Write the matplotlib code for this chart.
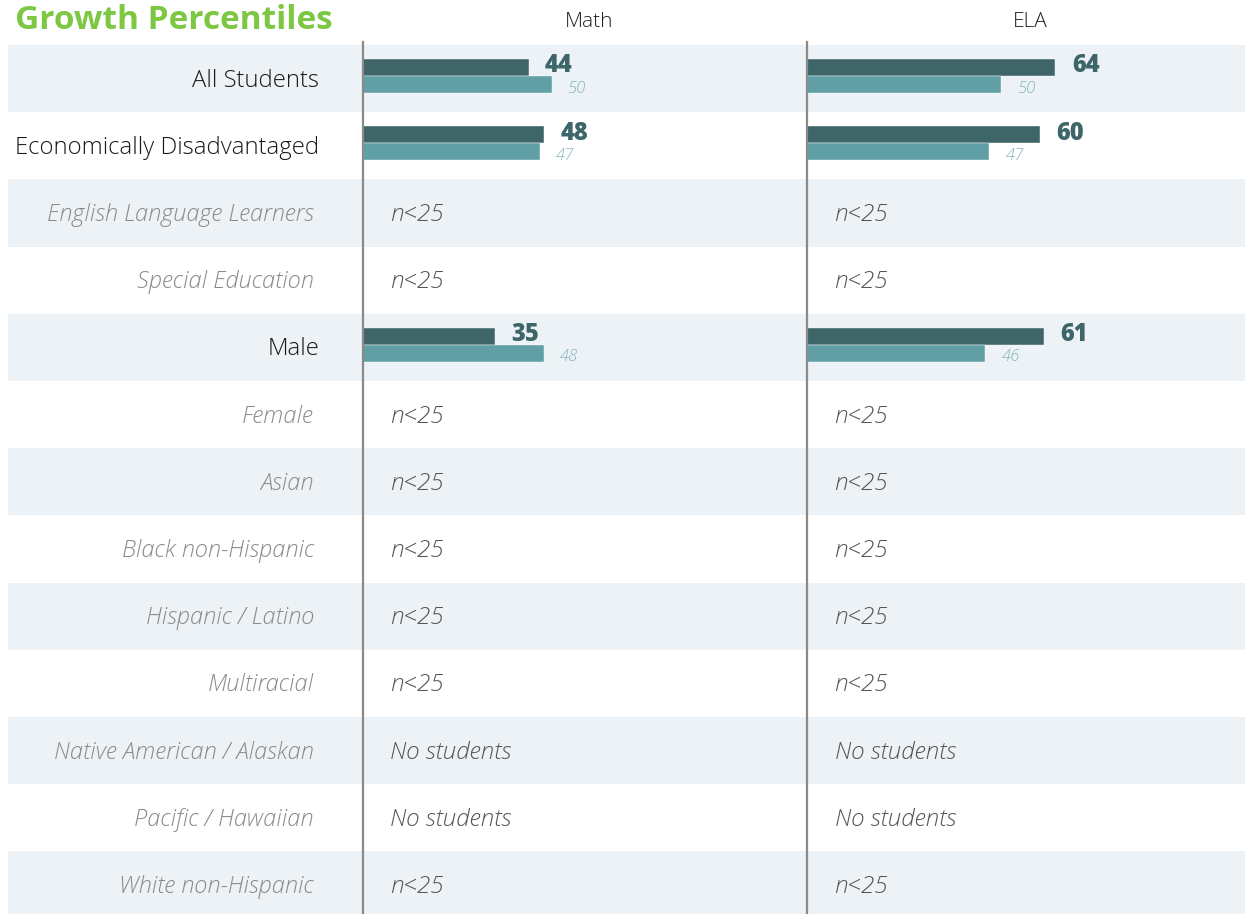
import numpy as np
import matplotlib.pyplot as plt

plt.rcParams['font.family'] = ['Open Sans', 'DejaVu Sans']

# --- data ---
groups = ['All Students', 'Economically Disadvantaged', 'English Language Learners',
          'Special Education', 'Male', 'Female', 'Asian', 'Black non-Hispanic',
          'Hispanic / Latino', 'Multiracial', 'Native American / Alaskan',
          'Pacific / Hawaiian', 'White non-Hispanic']
math_school = [44, 48, None, None, 35, None, None, None, None, None, None, None, None]
math_state = [50, 47, None, None, 48, None, None, None, None, None, None, None, None]
ela_school = [64, 60, None, None, 61, None, None, None, None, None, None, None, None]
ela_state = [50, 47, None, None, 46, None, None, None, None, None, None, None, None]
notes = ['', '', 'n<25', 'n<25', '', 'n<25', 'n<25', 'n<25', 'n<25', 'n<25',
         'No students', 'No students', 'n<25']

DARK = '#3e6568'
LIGHT = '#619fa6'
LIGHT_TXT = '#82b6bc'
BAND = '#edf2f6'
W, H = 1245, 914
ROW = 67.2
TOP = 45
y_top = -0.5 - TOP / ROW
y_bot = (H - TOP) / ROW - 0.5
dy = 0.03  # text sits a touch below row centre

fig = plt.figure(figsize=(W / 100, H / 100), dpi=100)
bg = fig.add_axes([0, 0, 1, 1])
bg.set_xlim(0, W)
bg.set_ylim(y_bot, y_top)
bg.axis('off')

n = len(groups)
for i in range(n):
    if i % 2 == 0:
        bg.fill_between([8, W], i - 0.5, i + 0.5, color=BAND, lw=0)
    has_data = math_school[i] is not None
    bg.text(319 if has_data else 314, i + dy, groups[i], ha='right', va='center',
            fontsize=17.2 if has_data else 17, fontweight='light',
            style='normal' if has_data else 'italic',
            color='#1a1a1a' if has_data else '#8a8a8a')

bg.text(15, -0.5 - 25 / ROW, 'Growth Percentiles', fontsize=24, fontweight='bold',
        color='#7dc843', ha='left', va='center')


def panel(x0, x1, xmax, title, school, state):
    ax = fig.add_axes([x0 / W, 0, (x1 - x0) / W, 1])
    ax.set_xlim(0, xmax)
    ax.set_ylim(y_bot, y_top)
    ax.axis('off')
    ax.patch.set_visible(False)
    ax.plot([0, 0], [-0.55, y_bot], color='#8a8a8a', lw=1.6, clip_on=False)
    ax.text(xmax / 2 * 1.02, -0.5 - 23 / ROW, title, ha='center', va='center',
            fontsize=15, fontweight='light', color='#222222')
    ypos = np.arange(n)
    for i in ypos:
        if school[i] is None:
            ax.text(27 / 3.8, i + dy, notes[i], ha='left', va='center', fontsize=17.5,
                    fontweight='light', style='italic', color='#555555')
            continue
        ax.barh(i - 0.165, school[i], height=0.255, color=DARK, edgecolor='#ffffff', lw=0.3)
        ax.barh(i + 0.09, state[i], height=0.255, color=LIGHT, edgecolor='#ffffff', lw=0.3)
        ax.text(school[i] + 4.3, i - 0.19, str(school[i]), ha='left', va='center',
                fontsize=17, fontweight='heavy', color=DARK)
        ax.text(state[i] + 4.2, i + 0.15, str(state[i]), ha='left', va='center',
                fontsize=12, style='italic', fontweight='light', color=LIGHT_TXT)
    return ax


panel(363, 807, 444 / 3.77, 'Math', math_school, math_state)
panel(807, W, 438 / 3.88, 'ELA', ela_school, ela_state)

fig.savefig('out.png', dpi=100)
